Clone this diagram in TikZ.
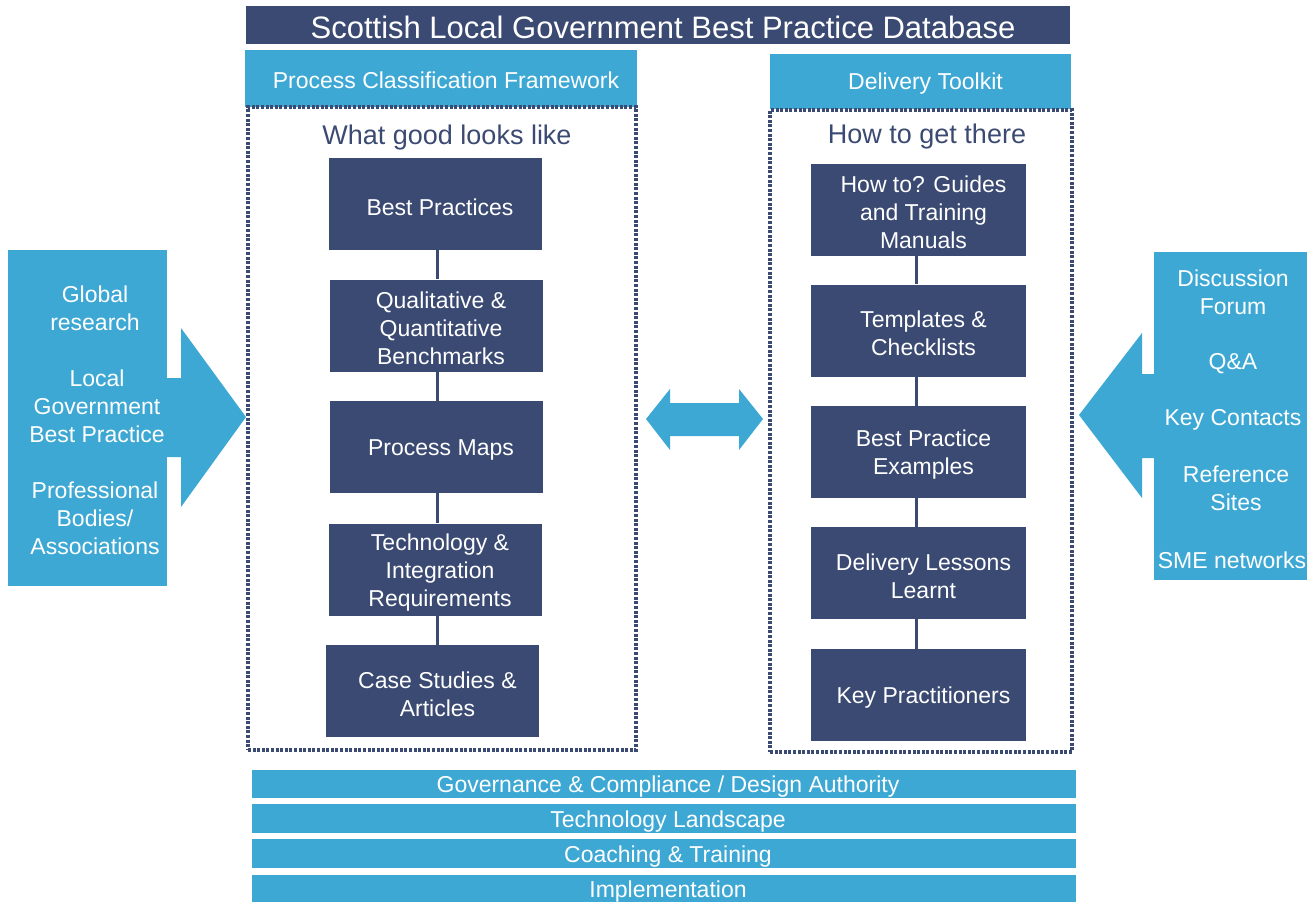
\documentclass[tikz,border=0pt]{standalone}
\usepackage{fontspec}
\setmainfont{Liberation Sans}
\definecolor{navy}{RGB}{59,74,114}
\definecolor{lblue}{RGB}{62,168,213}
\tikzset{
  x=1pt, y=-1pt,
  navybox/.style={fill=navy, draw=none, inner sep=0pt,
    minimum width=213pt, minimum height=92pt},
  boxtext/.style={text=white, align=center, inner sep=0pt, font=\fontsize{23}{28}\selectfont},
  bluebox/.style={fill=lblue, draw=none, text=white, inner sep=0pt, align=center,
    font=\fontsize{23}{28}\selectfont},
  framebox/.style={draw=navy, line width=3.2pt, dash pattern=on 3pt off 1.6pt, inner sep=0pt},
  conn/.style={draw=navy, line width=3pt},
  srctext/.style={text=white, align=center, font=\fontsize{23}{28}\selectfont, inner sep=0pt},
  heading/.style={text=navy, font=\fontsize{27}{32}\selectfont, inner sep=0pt},
}
\begin{document}
\begin{tikzpicture}
\useasboundingbox (0,0) rectangle (1310,902);

% title
\node[fill=navy, minimum width=824pt, minimum height=38pt, inner sep=0pt] (title) at (658,25) {};
\node[text=white, inner sep=0pt, font=\fontsize{31}{36}\selectfont] (titletext) at ([shift={(5,2)}]title.center) {Scottish Local Government Best Practice Database};

% headers
\node[fill=lblue, minimum width=392pt, minimum height=57pt, inner sep=0pt] (pcf) at (441,78.5) {};
\node[boxtext] (pcftext) at ([shift={(5,2)}]pcf.center) {Process Classification Framework};
\node[fill=lblue, minimum width=301pt, minimum height=55pt, inner sep=0pt] (dtk) at (920.5,81.5) {};
\node[boxtext] (dtktext) at ([shift={(5,2)}]dtk.center) {Delivery Toolkit};

% frames
\node[framebox, minimum width=388pt, minimum height=643pt] (lframe) at (442,428.5) {};
\node[framebox, minimum width=302pt, minimum height=642pt] (rframe) at (921,431) {};

\node[heading] (lhead) at (447,138) {What good looks like};
\node[heading] (rhead) at (927,137) {How to get there};

% left boxes
\node[navybox] (l1) at (435,204) {};
\node[navybox] (l2) at (436,325.5) {};
\node[navybox] (l3) at (436,447) {};
\node[navybox] (l4) at (435,569.5) {};
\node[navybox] (l5) at (432.5,691) {};
\node[boxtext] at ([shift={(5,3)}]l1.center) {Best Practices};
\node[boxtext] at ([shift={(5,3)}]l2.center) {Qualitative \&\\Quantitative\\Benchmarks};
\node[boxtext] at ([shift={(5,3)}]l3.center) {Process Maps};
\node[boxtext] at ([shift={(5,3)}]l4.center) {Technology \&\\Integration\\Requirements};
\node[boxtext] at ([shift={(5,3)}]l5.center) {Case Studies \&\\Articles};

\draw[conn] (l1.south -| 437,0) -- (l2.north -| 437,0);
\draw[conn] (l2.south -| 437,0) -- (l3.north -| 437,0);
\draw[conn] (l3.south -| 437,0) -- (l4.north -| 437,0);
\draw[conn] (l4.south -| 437,0) -- (l5.north -| 437,0);

% right boxes
\node[navybox, minimum width=215pt] (r1) at (918.5,209.5) {};
\node[navybox, minimum width=215pt] (r2) at (918.5,330.5) {};
\node[navybox, minimum width=215pt] (r3) at (918.5,452) {};
\node[navybox, minimum width=215pt] (r4) at (918.5,573) {};
\node[navybox, minimum width=215pt] (r5) at (918.5,695) {};
\node[boxtext] at ([shift={(5,3)}]r1.center) {How to? Guides\\and Training\\Manuals};
\node[boxtext] at ([shift={(5,3)}]r2.center) {Templates \&\\Checklists};
\node[boxtext] at ([shift={(5,3)}]r3.center) {Best Practice\\Examples};
\node[boxtext] at ([shift={(5,3)}]r4.center) {Delivery Lessons\\Learnt};
\node[boxtext] at ([shift={(5,3)}]r5.center) {Key Practitioners};

\draw[conn] (r1.south -| 916,0) -- (r2.north -| 916,0);
\draw[conn] (r2.south -| 916,0) -- (r3.north -| 916,0);
\draw[conn] (r3.south -| 916,0) -- (r4.north -| 916,0);
\draw[conn] (r4.south -| 916,0) -- (r5.north -| 916,0);

% double arrow
\fill[lblue] (646,419) -- (670,389) -- (670,403) -- (739,403) -- (739,389) -- (763,419)
  -- (739,450) -- (739,436) -- (670,436) -- (670,450) -- cycle;

% left source arrow
\fill[lblue] (8,250) rectangle (167,586);
\fill[lblue] (166,378) -- (181,378) -- (181,328) -- (246,417) -- (181,507) -- (181,457) -- (166,457) -- cycle;
\node[srctext] (s1) at (95,308) {Global\\research};
\node[srctext] (s2) at (97,406) {Local\\Government\\Best Practice};
\node[srctext] (s3) at (95,518) {Professional\\Bodies/\\Associations};

% right source arrow
\fill[lblue] (1154,252) rectangle (1307,580);
\fill[lblue] (1155,374) -- (1142,374) -- (1142,333) -- (1079,415) -- (1142,498) -- (1142,458) -- (1155,458) -- cycle;
\node[srctext] (t1) at (1233,292) {Discussion\\Forum};
\node[srctext] (t2) at (1233,364) {Q\&A};
\node[srctext] (t3) at (1233,420) {Key Contacts};
\node[srctext] (t4) at (1236,488) {Reference\\Sites};
\node[srctext] (t5) at (1232,560) {SME networks};

% bottom bars
\tikzset{barbox/.style={fill=lblue, minimum width=824pt, inner sep=0pt},
         bartext/.style={text=white, inner sep=0pt, font=\fontsize{23}{27}\selectfont}}
\node[barbox, minimum height=28pt] (b1) at (664,784) {};
\node[barbox, minimum height=29pt] (b2) at (664,818.5) {};
\node[barbox, minimum height=29pt] (b3) at (664,853.5) {};
\node[barbox, minimum height=28pt] (b4) at (664,889) {};
\node[bartext] at ([shift={(4,3)}]b1.center) {Governance \& Compliance / Design Authority};
\node[bartext] at ([shift={(4,3)}]b2.center) {Technology Landscape};
\node[bartext] at ([shift={(4,3)}]b3.center) {Coaching \& Training};
\node[bartext] at ([shift={(4,3)}]b4.center) {Implementation};
\end{tikzpicture}
\end{document}
